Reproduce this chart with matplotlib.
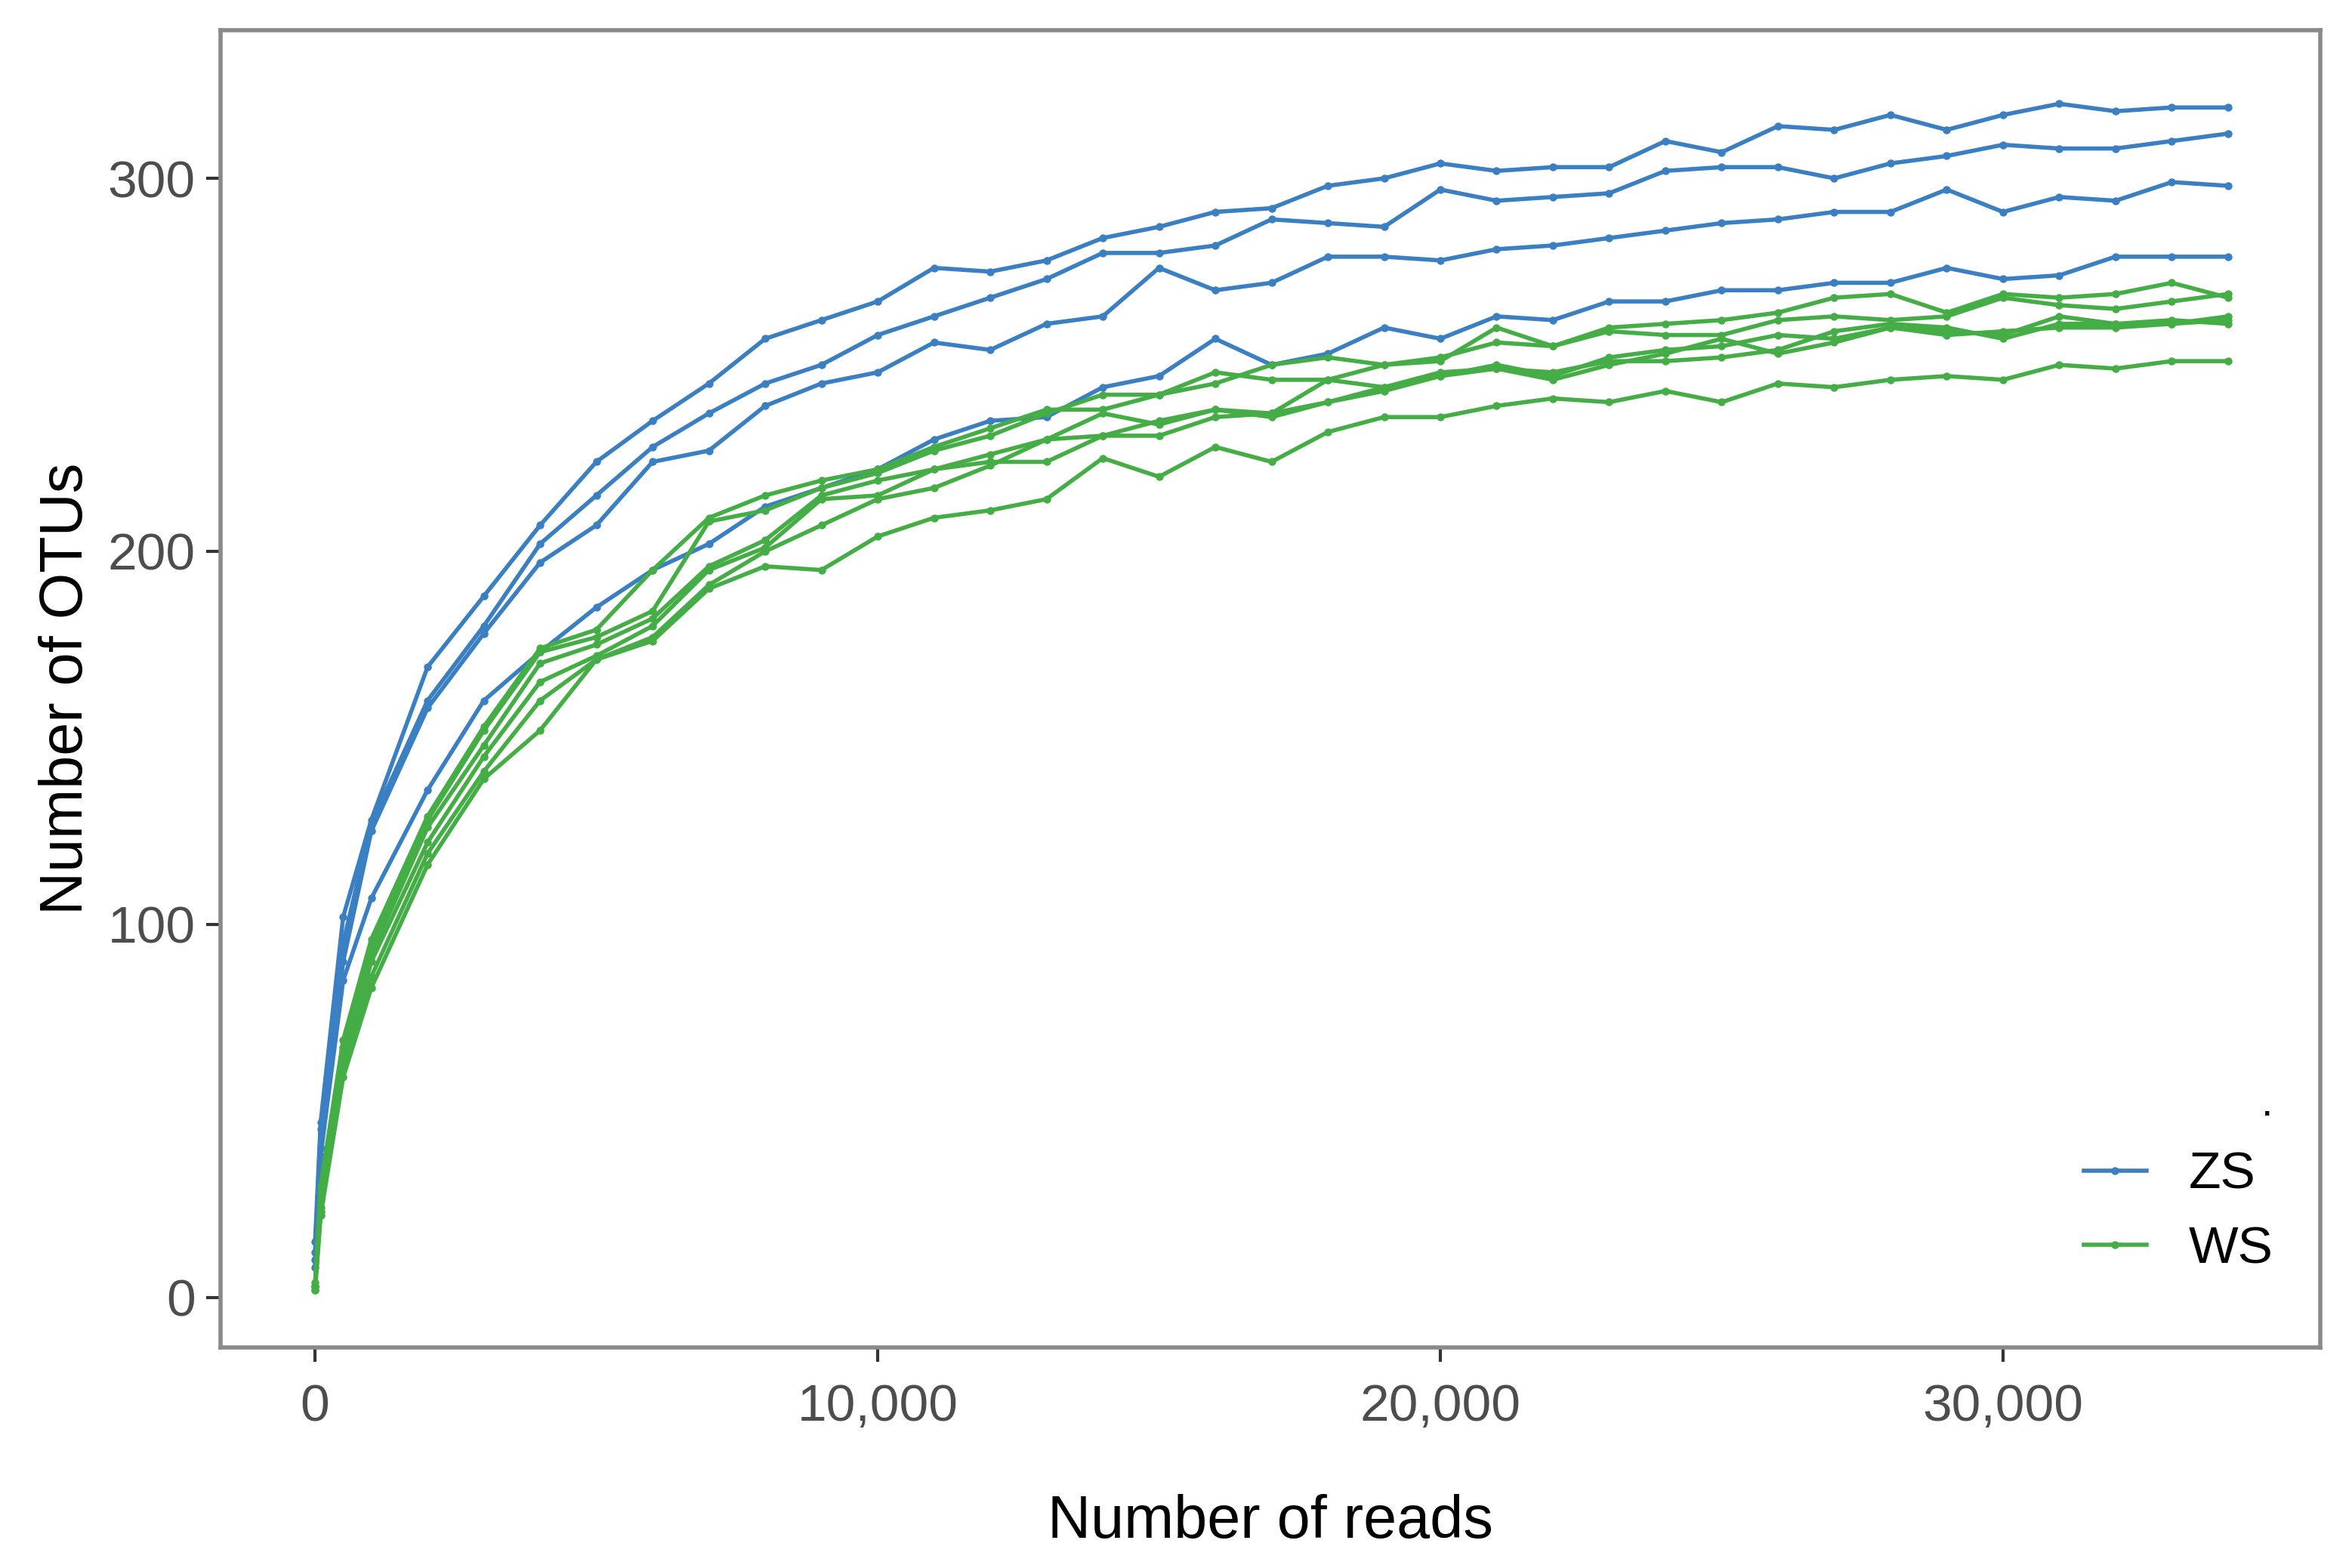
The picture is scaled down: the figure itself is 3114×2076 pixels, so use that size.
import matplotlib.pyplot as plt
from matplotlib.ticker import FuncFormatter

plt.rcParams['font.family'] = ['Liberation Sans', 'DejaVu Sans']

# sampling depths (reads)
reads = [1, 100, 500, 1000] + list(range(2000, 35000, 1000))

# ZS samples
zs_1 = [15, 47, 102, 128, 169, 188, 207, 224, 235, 245, 257, 262, 267, 276, 275, 278, 284, 287, 291, 292,
        298, 300, 304, 302, 303, 303, 310, 307, 314, 313, 317, 313, 317, 320, 318, 319, 319]
zs_2 = [12, 45, 95, 127, 160, 180, 202, 215, 228, 237, 245, 250, 258, 263, 268, 273, 280, 280, 282, 289,
        288, 287, 297, 294, 295, 296, 302, 303, 303, 300, 304, 306, 309, 308, 308, 310, 312]
zs_3 = [10, 40, 90, 125, 158, 178, 197, 207, 224, 227, 239, 245, 248, 256, 254, 261, 263, 276, 270, 272,
        279, 279, 278, 281, 282, 284, 286, 288, 289, 291, 291, 297, 291, 295, 294, 299, 298]
zs_4 = [8, 38, 85, 107, 136, 160, 173, 185, 195, 202, 212, 217, 222, 230, 235, 236, 244, 247, 257, 250,
        253, 260, 257, 263, 262, 267, 267, 270, 270, 272, 272, 276, 273, 274, 279, 279, 279]

# WS samples
ws_1 = [3, 30, 69, 96, 129, 153, 174, 179, 195, 209, 215, 219, 222, 228, 233, 238, 238, 242, 248, 246,
        246, 250, 251, 260, 255, 260, 261, 262, 264, 268, 269, 264, 269, 268, 269, 272, 268]
ws_2 = [4, 28, 67, 94, 128, 152, 173, 177, 184, 208, 211, 217, 221, 227, 231, 237, 242, 242, 245, 250,
        252, 250, 252, 256, 255, 259, 258, 258, 262, 263, 262, 263, 268, 266, 265, 267, 269]
ws_3 = [3, 26, 65, 92, 126, 148, 170, 175, 182, 196, 203, 215, 219, 222, 226, 230, 231, 235, 238, 237,
        240, 243, 247, 250, 247, 252, 254, 255, 258, 257, 260, 259, 258, 263, 261, 261, 263]
ws_4 = [2, 24, 63, 90, 122, 145, 165, 172, 180, 195, 201, 214, 215, 222, 224, 224, 231, 231, 236, 237,
        246, 244, 248, 249, 248, 251, 251, 252, 254, 259, 261, 260, 257, 261, 261, 262, 261]
ws_5 = [3, 23, 61, 86, 119, 141, 160, 171, 177, 191, 200, 207, 214, 217, 223, 230, 237, 234, 238, 236,
        240, 244, 247, 249, 246, 250, 253, 257, 253, 256, 260, 258, 259, 260, 260, 261, 262]
ws_6 = [2, 22, 59, 83, 116, 139, 152, 171, 176, 190, 196, 195, 204, 209, 211, 214, 225, 220, 228, 224,
        232, 236, 236, 239, 241, 240, 243, 240, 245, 244, 246, 247, 246, 250, 249, 251, 251]

groups = ['ZS', 'WS']
group_colors = {'ZS': '#3a7fc1', 'WS': '#45ad45'}
samples = {'ZS': [zs_1, zs_2, zs_3, zs_4],
           'WS': [ws_1, ws_2, ws_3, ws_4, ws_5, ws_6]}

fig = plt.figure(figsize=(31.14, 20.76), dpi=100)
ax = fig.add_axes([0.0938, 0.1407, 0.8927, 0.84])

for g in groups:
    for k, vals in enumerate(samples[g]):
        ax.plot(reads, vals, color=group_colors[g], linewidth=4.0, marker='o',
                markersize=7.5, markeredgewidth=0, label=g if k == 0 else None)

ax.set_xlim(-1678, 35638)
ax.set_ylim(-13.4, 339.7)
ax.set_xticks([0, 10000, 20000, 30000])
ax.set_yticks([0, 100, 200, 300])
ax.xaxis.set_major_formatter(FuncFormatter(lambda v, p: f"{int(v):,}"))

for s in ax.spines.values():
    s.set_color('#8a8a8a')
    s.set_linewidth(4)
ax.tick_params(axis='both', which='major', length=14, width=3, color='#333333',
               labelsize=50, labelcolor='#4d4d4d', pad=10)
ax.tick_params(axis='x', pad=20)

ax.set_xlabel('Number of reads', fontsize=57, labelpad=60)
ax.set_ylabel('Number of OTUs', fontsize=57, labelpad=12)

leg = ax.legend(loc='lower right', bbox_to_anchor=(1.0, 0.02), frameon=False, title='.',
                fontsize=50, title_fontsize=40, handlelength=1.2, handletextpad=0.8,
                labelspacing=0.5, markerscale=1.0)
leg._legend_box.align = 'right'

fig.savefig('out.png', dpi=100)
